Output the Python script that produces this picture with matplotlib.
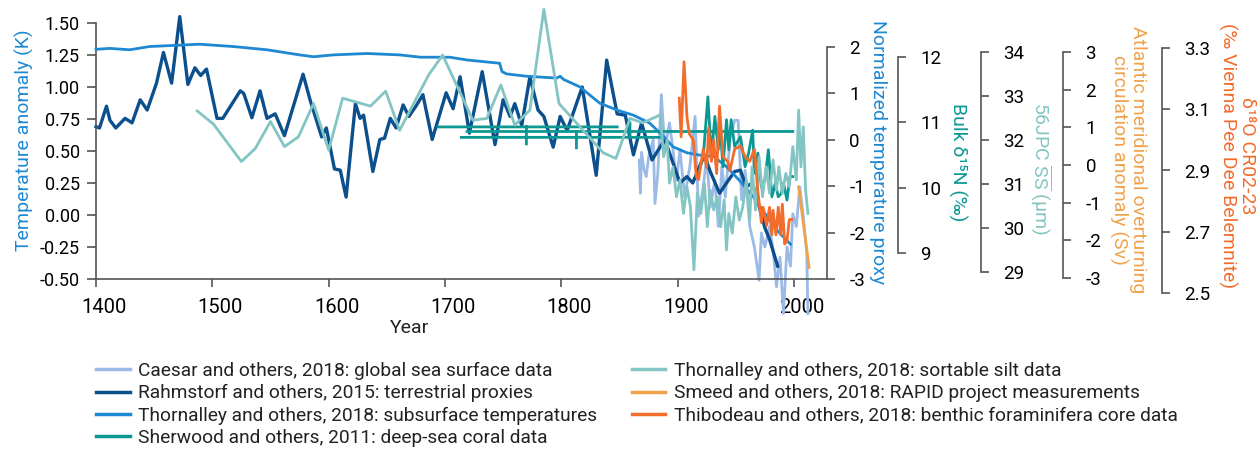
import matplotlib
matplotlib.use('Agg')
import matplotlib.pyplot as plt
import matplotlib.transforms as mtransforms
import numpy as np

plt.rcParams['font.family'] = ['Roboto', 'DejaVu Sans']
plt.rcParams['axes.unicode_minus'] = False
plt.rcParams['mathtext.fontset'] = 'custom'
plt.rcParams['mathtext.rm'] = 'Roboto'
plt.rcParams['mathtext.it'] = 'Roboto:italic'

# ---------------- data ----------------
rahm_year = [1400, 1403, 1409, 1412, 1417, 1425, 1431, 1438, 1444, 1452, 1458, 1465, 1472, 1479,
             1485, 1490, 1495, 1504, 1509, 1524, 1527, 1534, 1541, 1547, 1554, 1562, 1578, 1584,
             1594, 1598, 1605, 1610, 1615, 1623, 1627, 1630, 1638, 1644, 1648, 1653, 1658, 1664,
             1669, 1675, 1681, 1689, 1701, 1707, 1713, 1721, 1732, 1743, 1750, 1756, 1760, 1766,
             1773, 1780, 1785, 1793, 1799, 1805, 1818, 1830, 1839, 1848, 1855, 1862, 1869, 1878,
             1889, 1902, 1908, 1913, 1923, 1928, 1936, 1942, 1949, 1954, 1959, 1964, 1968, 1975,
             1979, 1986]
rahm_val = [0.69, 0.68, 0.85, 0.74, 0.68, 0.755, 0.72, 0.90, 0.82, 1.03, 1.27, 1.03, 1.55, 1.02,
            1.15, 1.09, 1.14, 0.755, 0.755, 0.97, 0.95, 0.76, 0.97, 0.755, 0.79, 0.62, 1.10, 0.90,
            0.61, 0.68, 0.36, 0.35, 0.14, 0.87, 0.755, 0.78, 0.34, 0.59, 0.60, 0.755, 0.68, 0.86,
            0.77, 0.85, 0.94, 0.59, 0.955, 0.83, 1.08, 0.64, 1.12, 0.55, 0.90, 0.77, 0.87, 0.70,
            1.08, 0.82, 0.77, 0.53, 0.77, 0.66, 1.00, 0.31, 1.21, 0.79, 0.78, 0.47, 0.72, 0.43,
            0.59, 0.25, 0.30, 0.25, 0.47, 0.34, 0.17, 0.25, 0.34, 0.35, 0.22, 0.25, 0.14, -0.10,
            -0.19, -0.40]

caesar_year = [1867, 1868, 1869, 1871, 1873, 1875, 1879, 1880.5, 1883, 1886, 1889, 1893, 1896,
               1899, 1902, 1906, 1910.5, 1915, 1918, 1922, 1925, 1928, 1932, 1935, 1938, 1941,
               1945, 1949, 1952, 1955, 1958, 1962, 1966, 1970, 1972, 1975, 1979, 1982, 1985,
               1988, 1991, 1994, 1997, 1999, 2002, 2005, 2008, 2011, 2012]
caesar_val = [0.43, 0.17, 0.49, 0.36, 0.30, 0.45, 0.59, 0.09, 0.33, 0.94, 0.51, 0.72, 0.51,
              0.27, 0.51, 0.14, 0.38, 0.77, -0.01, 0.22, 0.46, 0.06, 0.27, -0.09, 0.38, 0.14,
              0.59, 0.74, 0.74, 0.12, 0.35, -0.09, -0.25, -0.51, -0.14, -0.25, -0.09, -0.27,
              -0.56, -0.33, -0.77, -0.25, -0.40, 0.01, -0.09, 0.22, -0.01, -0.30, -0.77]

sub_year = [1400, 1412, 1429, 1446, 1472, 1489, 1518, 1547, 1575, 1587, 1604, 1633, 1661, 1679,
            1704, 1719, 1747, 1749, 1753, 1770, 1796, 1799, 1802, 1816, 1833, 1848, 1862, 1876,
            1888, 1896, 1908, 1919, 1931, 1942, 1954, 1965, 1977, 1985, 1997]
sub_val = [1.95, 1.97, 1.94, 2.01, 2.04, 2.06, 2.01, 1.94, 1.83, 1.79, 1.83, 1.86, 1.83, 1.78,
           1.78, 1.72, 1.65, 1.47, 1.42, 1.37, 1.33, 1.37, 1.30, 1.14, 0.79, 0.64, 0.53, 0.36,
           0.07, -0.15, -0.28, -0.33, -0.36, -0.58, -0.90, -1.23, -1.66, -1.94, -2.25]

# deep-sea coral: dated spans (NaN separates pieces) and the annual record
sher_year = [1694, 1848, np.nan, 1714, 1885, np.nan, 1719, 1999, np.nan,
             1770, 1770, np.nan, 1813, 1813, np.nan, 1859, 1859, np.nan,
             1918, 1922, 1926, 1929, 1932, 1935, 1936, 1939, 1942, 1944, 1946, 1949, 1954,
             1958, 1961, 1964.5, 1966, 1969, 1972, 1975, 1978, 1981, 1984, 1986.5, 1989, 1991,
             1994, 1996.6, 1999]
sher_val = [10.93, 10.93, np.nan, 10.77, 10.77, np.nan, 10.86, 10.86, np.nan,
            10.93, 10.67, np.nan, 10.86, 10.61, np.nan, 10.99, 10.79, np.nan,
            10.22, 10.47, 11.39, 10.47, 11.09, 10.58, 11.04, 10.32, 11.04, 10.58, 11.04, 10.63,
            10.78, 10.32, 10.53, 10.88, 10.22, 10.53, 10.01, 10.12, 10.58, 9.86, 10.07, 9.86,
            9.91, 10.07, 9.81, 10.17, 10.17]

silt_year = [1487, 1501, 1525, 1537, 1550, 1562, 1574, 1587, 1600, 1612, 1636, 1649, 1661, 1686,
             1698, 1724, 1736, 1748, 1760, 1773, 1785, 1798, 1836, 1847, 1859, 1870, 1885, 1888,
             1891, 1893, 1896, 1899, 1902, 1905, 1908, 1911, 1914, 1917, 1920, 1923, 1925.5, 1928,
             1931, 1934, 1937, 1940, 1942, 1944, 1947, 1950, 1953, 1956, 1959, 1962, 1964, 1967,
             1970, 1973, 1976, 1979, 1982, 1985, 1987, 1990, 1993, 1996, 1999, 2002, 2004, 2006,
             2008, 2010, 2012]
silt_val = [32.66, 32.36, 31.51, 31.81, 32.42, 31.85, 32.07, 32.83, 31.77, 32.95, 32.77, 33.11,
            32.22, 33.48, 33.93, 32.45, 32.49, 33.25, 32.34, 32.68, 34.97, 32.83, 31.71, 31.58,
            32.49, 32.39, 32.57, 31.62, 32.0, 31.02, 31.39, 30.71, 31.09, 30.33, 30.94, 30.48,
            29.05, 30.79, 30.33, 31.02, 30.03, 30.86, 30.41, 30.71, 30.03, 30.64, 29.5, 30.33,
            29.88, 30.71, 30.18, 30.48, 31.09, 30.18, 31.39, 30.41, 31.62, 30.71, 31.39, 30.79,
            31.55, 30.86, 31.39, 30.79, 31.24, 30.94, 31.85, 31.09, 32.68, 31.39, 32.3, 30.86,
            30.33]

smeed_year = [2004, 2007, 2010, 2013]
smeed_val = [-0.58, -1.3, -2.0, -2.72]

thib_year = [1901.4, 1903, 1905.5, 1908, 1910, 1913.5, 1916, 1918, 1922, 1925, 1926.6, 1929, 1931,
             1933.5, 1936, 1939, 1943, 1945, 1949, 1954, 1958, 1962, 1966, 1969, 1972, 1973.5,
             1976.5, 1979, 1981, 1982, 1984.5, 1986.5, 1988.6, 1990, 1992, 1994, 1996, 1998]
thib_val = [3.136, 3.01, 3.255, 3.076, 3.02, 3.0, 2.88, 2.87, 2.97, 2.91, 3.04, 2.93, 3.0, 2.89,
            3.11, 2.945, 2.93, 2.90, 2.97, 2.98, 2.945, 2.93, 2.97, 2.83, 2.73, 2.78, 2.72, 2.78,
            2.69, 2.77, 2.69, 2.78, 2.69, 2.79, 2.66, 2.67, 2.74, 2.74]

labels = ['Caesar and others, 2018: global sea surface data',
          'Rahmstorf and others, 2015: terrestrial proxies',
          'Thornalley and others, 2018: subsurface temperatures',
          'Sherwood and others, 2011: deep-sea coral data',
          'Thornalley and others, 2018: sortable silt data',
          'Smeed and others, 2018: RAPID project measurements',
          'Thibodeau and others, 2018: benthic foraminifera core data']

c_caesar = '#9bbbe6'
c_rahm = '#0b4f8d'
c_sub = '#1e88d2'
c_sher = '#0b9893'
c_silt = '#83c5c2'
c_smeed = '#f0a24b'
c_thib = '#f26c2c'
spine_c = '#555555'

# ---------------- layout ----------------
W, H = 1259, 451
fig = plt.figure(figsize=(W / 100, H / 100), dpi=100)
XL = (1400, 2028.4)


def rect(top_px, bot_px):
    return [96 / W, 1 - bot_px / H, 731 / W, (bot_px - top_px) / H]


ax = fig.add_axes(rect(23, 279))
ax.set_xlim(*XL)
ax.set_ylim(-0.5, 1.5)
for s in ['top', 'right']:
    ax.spines[s].set_visible(False)
for s in ['left', 'bottom']:
    ax.spines[s].set_color(spine_c)
    ax.spines[s].set_linewidth(1.2)
ax.set_xticks([1400, 1500, 1600, 1700, 1800, 1900, 2000])
ax.set_yticks([-0.5, -0.25, 0, 0.25, 0.5, 0.75, 1.0, 1.25, 1.5])
ax.set_yticklabels(['-0.50', '-0.25', '0.00', '0.25', '0.50', '0.75', '1.00', '1.25', '1.50'])
ax.tick_params(axis='y', direction='out', length=6.5, width=1.2, color=spine_c, pad=5, labelsize=13)
ax.tick_params(axis='x', direction='out', length=6, width=1.2, color=spine_c, pad=8, labelsize=14.5)
shift = mtransforms.ScaledTranslation(8 / 100, 0, fig.dpi_scale_trans)
for lab in ax.get_xticklabels():
    lab.set_transform(lab.get_transform() + shift)
ax.patch.set_visible(False)

lw = 2.0
h_caesar, = ax.plot(caesar_year, caesar_val, color=c_caesar, lw=lw, clip_on=False, solid_joinstyle='round')
h_rahm, = ax.plot(rahm_year, rahm_val, color=c_rahm, lw=2.4, clip_on=False, solid_joinstyle='round')


def sec(top, bot, lim, ticks, ticklabels, frac):
    a = fig.add_axes(rect(top, bot))
    a.set_xlim(*XL)
    a.set_ylim(*lim)
    a.patch.set_visible(False)
    for s in ['left', 'top', 'bottom']:
        a.spines[s].set_visible(False)
    a.spines['right'].set_position(('axes', frac))
    a.spines['right'].set_color(spine_c)
    a.spines['right'].set_linewidth(1.2)
    a.xaxis.set_visible(False)
    a.yaxis.tick_right()
    a.set_yticks(ticks)
    a.set_yticklabels(ticklabels)
    a.tick_params(axis='y', direction='out', length=6, width=1.2, color=spine_c, pad=10, labelsize=13.5)
    return a


ax_n = sec(47, 279, (-3, 2), [-3, -2, -1, 0, 1, 2], ['-3', '-2', '-1', '0', '1', '2'], 1.0)
h_sub, = ax_n.plot(sub_year, sub_val, color=c_sub, lw=lw, clip_on=False)

ax_d = sec(57, 253, (9, 12), [9, 10, 11, 12], ['9', '10', '11', '12'], 1.0975)
h_sher, = ax_d.plot(sher_year, sher_val, color=c_sher, lw=lw, clip_on=False)

ax_s = sec(52, 272, (29, 34), [29, 30, 31, 32, 33, 34], ['29', '30', '31', '32', '33', '34'], 1.2107)
h_silt, = ax_s.plot(silt_year, silt_val, color=c_silt, lw=lw, clip_on=False)

ax_a = sec(52, 278, (-3, 3), [-3, -2, -1, 0, 1, 2, 3], ['-3', '-2', '-1', '0', '1', '2', '3'], 1.3233)
h_smeed, = ax_a.plot(smeed_year, smeed_val, color=c_smeed, lw=lw, clip_on=False)

ax_o = sec(48, 293, (2.5, 3.3), [2.5, 2.7, 2.9, 3.1, 3.3], ['2.5', '2.7', '2.9', '3.1', '3.3'], 1.4578)
h_thib, = ax_o.plot(thib_year, thib_val, color=c_thib, lw=lw, clip_on=False)


def ftext(x, y, s, **kw):
    fig.text(x / W, 1 - y / H, s, ha='center', va='center', **kw)


ftext(24, 140, 'Temperature anomaly (K)', rotation=90, color=c_sub, fontsize=14)
ftext(410, 328, 'Year', color='#222222', fontsize=14)
ftext(878, 152, 'Normalized temperature proxy', rotation=270, color=c_sub, fontsize=14)
ftext(958, 162, 'Bulk δ¹⁵N (‰)', rotation=270, color=c_sher, fontsize=14)
ftext(1041, 168, r'56JPC $\overline{\mathrm{SS}}$ (µm)', rotation=270, color=c_silt, fontsize=14)
ftext(1128, 160, 'Atlantic meridional overturning\ncirculation anomaly (Sv)', rotation=270,
      color=c_smeed, fontsize=14, linespacing=1.05)
ftext(1237, 156, 'δ¹⁸O CR02-23\n(‰ Vienna Pee Dee Belemnite)', rotation=270,
      color=c_thib, fontsize=14, linespacing=1.05)

handles = [h_caesar, h_rahm, h_sub, h_sher, h_silt, h_smeed, h_thib]
leg = fig.legend(handles, labels, loc='upper left', bbox_to_anchor=(96 / W, 1 - 362 / H),
                 ncol=2, frameon=False, fontsize=13.8, handlelength=1.75, handletextpad=0.45,
                 columnspacing=1.8, labelspacing=0.22, borderpad=0, borderaxespad=0)
for t in leg.get_texts():
    t.set_color('#222222')
for l in leg.get_lines():
    l.set_linewidth(2.5)

fig.savefig('out.png', dpi=100)
